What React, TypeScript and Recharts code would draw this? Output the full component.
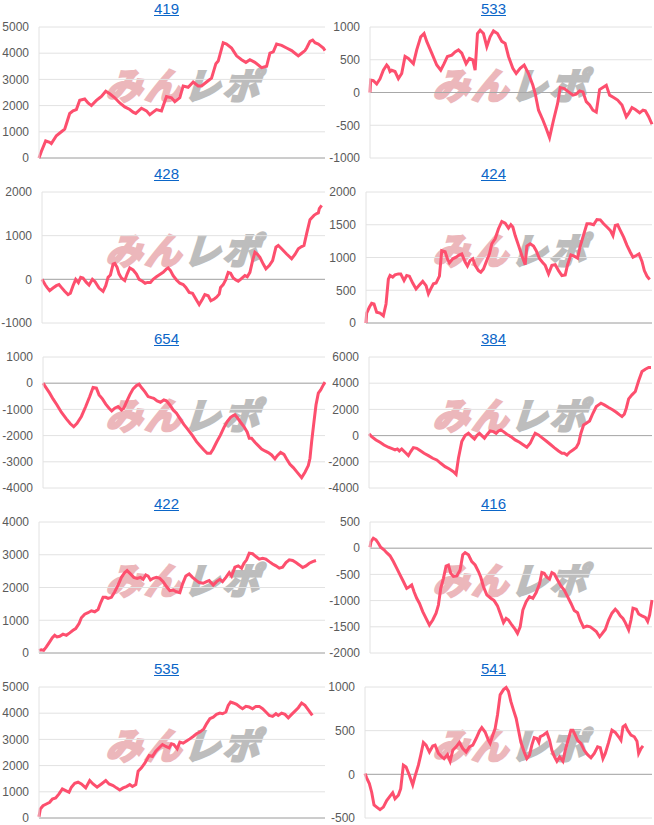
import React from 'react';
import { LineChart, Line, XAxis, YAxis, CartesianGrid, ReferenceLine } from 'recharts';

type Pt = [number, number];

const titles = ['419', '533', '428', '424', '654', '384', '422', '416', '535', '541'];

const s419: Pt[] = [[0,0],[7,250],[20,650],[32,600],[37,550],[52,850],[67,1000],[77,1100],[82,1300],[92,1700],[102,1800],[112,1850],[122,2200],[137,2250],[147,2100],[157,2000],[172,2200],[182,2300],[187,2350],[200,2550],[212,2450],[227,2300],[242,2100],[257,1950],[272,1850],[282,1750],[290,1700],[307,1900],[322,1800],[332,1650],[342,1750],[352,1850],[367,1800],[382,2350],[397,2300],[407,2150],[422,2300],[432,2750],[447,2700],[462,2900],[477,2750],[487,2750],[502,2900],[517,3050],[530,3600],[537,3700],[552,4400],[562,4350],[577,4200],[582,4100],[592,3900],[607,3750],[620,3650],[632,3750],[647,3650],[667,3450],[682,3500],[692,4000],[702,4050],[712,4350],[727,4300],[742,4200],[757,4100],[767,4000],[777,3900],[787,4000],[797,4100],[802,4200],[812,4450],[820,4500],[827,4400],[837,4350],[842,4300],[852,4200],[857,4100]];

const s533: Pt[] = [[0,0],[2,190],[10,180],[20,130],[30,210],[40,340],[50,420],[55,390],[60,320],[65,340],[75,320],[85,210],[95,290],[105,550],[115,520],[130,440],[140,650],[152,850],[162,900],[170,780],[185,600],[200,420],[212,340],[222,440],[232,550],[245,570],[255,620],[265,650],[275,600],[288,440],[298,520],[308,500],[315,340],[322,900],[330,950],[340,900],[350,700],[360,850],[370,940],[382,900],[395,780],[405,750],[415,550],[428,370],[438,290],[450,370],[462,420],[475,290],[488,110],[495,-15],[505,-270],[518,-420],[528,-550],[538,-690],[550,-420],[562,-170],[570,75],[582,60],[595,10],[608,-40],[618,-25],[628,25],[638,10],[648,-140],[658,-190],[668,-270],[678,-300],[688,45],[700,85],[708,110],[718,-40],[730,-75],[742,-115],[755,-190],[768,-370],[775,-320],[785,-230],[795,-260],[808,-310],[818,-270],[825,-280],[835,-370],[845,-485]];

const s428: Pt[] = [[0,0],[10,-130],[15,-185],[23,-260],[33,-200],[43,-145],[51,-120],[58,-185],[68,-275],[78,-350],[85,-320],[93,-145],[101,0],[109,-75],[116,45],[123,30],[133,-70],[141,-130],[151,0],[159,-55],[171,-200],[183,-275],[191,-145],[198,45],[205,100],[213,350],[218,365],[225,275],[231,120],[238,30],[248,-30],[255,120],[263,260],[273,215],[283,120],[291,0],[301,-45],[309,-90],[316,-70],[325,-70],[333,0],[343,60],[353,110],[363,160],[373,240],[378,260],[385,200],[393,85],[403,-15],[413,-90],[423,-120],[431,-185],[441,-300],[451,-320],[461,-450],[471,-580],[481,-450],[488,-350],[498,-375],[506,-490],[516,-450],[523,-410],[531,-340],[535,-185],[543,-120],[551,0],[558,160],[565,140],[573,30],[581,-15],[588,-45],[595,0],[608,85],[615,60],[623,160],[631,430],[638,620],[645,580],[653,505],[663,350],[671,240],[681,315],[691,430],[701,735],[708,775],[718,700],[733,580],[748,470],[758,570],[768,700],[778,750],[785,775],[793,1045],[803,1365],[815,1465],[823,1505],[828,1520],[831,1620],[838,1695]];

const s424: Pt[] = [[0,0],[2,150],[10,240],[17,300],[24,290],[32,165],[42,150],[52,110],[60,290],[67,670],[72,725],[80,700],[87,735],[97,750],[104,750],[114,650],[122,725],[130,715],[140,610],[150,520],[160,580],[170,635],[180,570],[187,445],[194,520],[202,600],[210,610],[220,715],[227,1105],[237,1090],[244,980],[250,920],[260,980],[270,1005],[280,1040],[287,1055],[297,930],[304,870],[312,955],[320,980],[327,880],[337,800],[344,775],[352,825],[360,930],[370,1055],[377,1210],[387,1285],[397,1440],[407,1550],[417,1525],[427,1450],[434,1500],[440,1465],[447,1335],[457,1185],[467,1030],[477,890],[482,1175],[492,1210],[502,1175],[510,1105],[520,980],[530,920],[537,880],[547,750],[557,880],[567,890],[577,800],[587,725],[597,735],[604,890],[614,1040],[624,1020],[634,990],[642,1175],[652,1345],[662,1515],[672,1515],[682,1500],[692,1580],[702,1575],[712,1515],[722,1465],[732,1415],[740,1335],[747,1490],[754,1500],[762,1415],[772,1310],[782,1185],[792,1080],[800,1005],[810,1030],[818,1055],[827,940],[834,800],[842,715],[850,665]];

const s654: Pt[] = [[0,0],[10,-190],[20,-380],[30,-600],[42,-830],[55,-1110],[70,-1360],[82,-1550],[92,-1660],[102,-1530],[115,-1270],[128,-890],[140,-510],[150,-165],[160,-190],[168,-445],[178,-600],[188,-800],[198,-955],[206,-1060],[215,-955],[225,-890],[235,-1020],[242,-955],[250,-725],[260,-445],[270,-215],[280,-90],[288,-40],[295,-165],[305,-320],[315,-510],[325,-550],[332,-575],[342,-675],[352,-725],[362,-640],[370,-675],[380,-830],[390,-1020],[400,-1145],[410,-1340],[422,-1570],[435,-1780],[448,-2000],[460,-2230],[470,-2380],[482,-2550],[492,-2675],[502,-2675],[510,-2510],[520,-2255],[532,-1975],[542,-1695],[552,-1465],[562,-1300],[570,-1235],[575,-1210],[582,-1310],[592,-1490],[602,-1655],[612,-1870],[618,-2100],[625,-2100],[635,-2255],[645,-2380],[655,-2510],[665,-2585],[675,-2650],[685,-2740],[695,-2890],[702,-2765],[712,-2640],[722,-2715],[730,-2890],[740,-3095],[750,-3220],[760,-3375],[768,-3500],[775,-3605],[785,-3400],[795,-3145],[800,-2865],[805,-2230],[812,-1465],[818,-830],[825,-380],[832,-255],[840,-65],[845,40]];

const s384: Pt[] = [[0,130],[8,-75],[21,-330],[33,-510],[45,-715],[58,-890],[71,-1020],[78,-1095],[85,-1020],[91,-1170],[98,-1020],[108,-1275],[118,-1530],[125,-1220],[133,-915],[143,-970],[153,-1145],[165,-1350],[178,-1530],[191,-1730],[203,-1860],[215,-2115],[228,-2370],[241,-2550],[253,-2750],[261,-2955],[268,-1730],[278,-460],[288,0],[298,180],[308,-75],[316,-255],[323,0],[331,180],[338,0],[346,-205],[353,50],[363,355],[373,305],[381,180],[388,355],[395,435],[403,305],[413,100],[425,-75],[438,-330],[451,-510],[463,-715],[473,-890],[483,-585],[491,-150],[498,180],[508,50],[518,-150],[531,-410],[543,-660],[555,-915],[568,-1170],[578,-1350],[585,-1350],[593,-1480],[601,-1275],[611,-1095],[621,-915],[628,-585],[635,180],[643,815],[651,940],[661,1120],[671,1705],[681,2215],[688,2345],[695,2470],[705,2345],[718,2140],[731,1960],[741,1785],[751,1580],[758,1450],[765,1630],[771,2090],[778,2800],[788,3110],[798,3365],[808,4180],[818,4890],[828,5070],[838,5200],[845,5200]];

const s422: Pt[] = [[0,80],[7,100],[14,80],[22,185],[32,340],[40,470],[47,540],[54,490],[62,510],[72,575],[82,540],[92,615],[102,695],[110,745],[120,900],[127,1075],[137,1185],[147,1230],[157,1290],[167,1260],[177,1330],[184,1515],[192,1700],[200,1700],[207,1665],[217,1700],[227,1870],[237,2075],[247,2310],[257,2455],[264,2515],[274,2415],[284,2310],[294,2280],[304,2310],[312,2250],[320,2385],[327,2350],[334,2230],[342,2280],[352,2310],[362,2280],[372,2180],[382,2030],[392,1905],[402,1925],[412,1870],[422,1840],[430,2105],[440,2350],[450,2415],[460,2310],[472,2210],[480,2150],[492,2130],[502,2180],[510,2210],[522,2075],[532,2180],[542,2250],[550,2180],[560,2310],[570,2455],[577,2350],[587,2620],[597,2660],[607,2590],[614,2740],[622,2845],[630,3050],[640,3030],[650,2945],[660,2865],[670,2895],[680,2865],[690,2790],[700,2720],[710,2660],[720,2590],[730,2620],[740,2760],[750,2845],[760,2825],[770,2760],[780,2690],[790,2610],[800,2660],[810,2740],[820,2790],[830,2825]];

const s416: Pt[] = [[0,20],[3,125],[10,190],[18,160],[25,95],[32,20],[42,-30],[50,-85],[60,-145],[70,-255],[80,-380],[90,-510],[100,-635],[110,-765],[118,-735],[125,-700],[132,-830],[140,-955],[148,-1050],[158,-1210],[168,-1340],[178,-1465],[188,-1370],[198,-1240],[205,-1085],[212,-765],[220,-575],[228,-340],[235,-320],[242,-480],[250,-540],[260,-530],[270,-415],[278,-125],[285,-85],[295,-125],[305,-255],[315,-320],[325,-445],[332,-555],[340,-735],[350,-890],[362,-955],[372,-1000],[382,-1100],[392,-1275],[400,-1420],[408,-1340],[415,-1370],[425,-1465],[435,-1550],[442,-1625],[450,-1500],[458,-1180],[468,-1020],[478,-925],[488,-955],[498,-845],[508,-680],[515,-465],[522,-480],[530,-555],[538,-590],[545,-465],[552,-490],[562,-605],[572,-720],[582,-800],[592,-925],[602,-1050],[612,-1190],[622,-1230],[630,-1380],[640,-1510],[650,-1485],[660,-1500],[670,-1550],[678,-1590],[688,-1690],[695,-1635],[705,-1550],[715,-1370],[725,-1240],[735,-1165],[742,-1210],[750,-1290],[758,-1340],[765,-1420],[775,-1560],[782,-1370],[788,-1145],[798,-1165],[805,-1255],[815,-1290],[825,-1320],[832,-1400],[838,-1275],[845,-990]];

const s535: Pt[] = [[0,50],[4,345],[12,470],[22,535],[32,600],[40,725],[50,765],[60,920],[70,1110],[80,1045],[90,980],[97,1175],[107,1325],[117,1365],[127,1300],[140,1150],[152,1430],[162,1300],[174,1175],[187,1300],[200,1430],[210,1300],[222,1240],[232,1150],[242,1070],[252,1150],[262,1200],[272,1275],[280,1200],[290,1275],[297,1785],[307,1915],[317,2090],[330,2385],[340,2350],[350,2550],[360,2680],[370,2805],[380,2730],[390,2680],[397,2830],[404,2805],[414,2640],[422,2895],[432,2855],[442,2935],[452,3020],[462,3110],[472,3215],[482,3280],[494,3405],[502,3595],[512,3790],[522,3850],[532,3955],[542,4005],[550,3980],[560,4045],[567,4300],[574,4425],[582,4390],[592,4335],[602,4235],[610,4170],[620,4260],[630,4235],[640,4170],[650,4260],[660,4260],[670,4170],[680,4045],[690,3915],[700,3880],[710,3980],[717,3915],[727,4005],[737,3955],[747,3825],[757,3955],[767,4080],[777,4210],[787,4390],[797,4300],[807,4130],[819,3915]];

const s541: Pt[] = [[0,10],[5,-40],[13,-105],[20,-205],[27,-350],[35,-375],[45,-405],[55,-375],[65,-300],[75,-250],[83,-210],[90,-280],[100,-240],[107,-165],[115,105],[123,85],[133,-10],[143,-120],[150,-20],[160,105],[167,220],[175,365],[183,335],[193,255],[203,325],[210,335],[220,240],[230,200],[237,180],[247,225],[255,150],[263,275],[273,315],[283,365],[293,295],[303,255],[313,315],[323,335],[333,410],[343,495],[350,535],[360,485],[370,390],[375,355],[383,450],[390,525],[397,680],[405,910],[415,970],[423,995],[430,950],[437,835],[445,735],[453,640],[460,505],[467,370],[477,255],[485,180],[493,220],[500,335],[507,420],[515,410],[521,365],[525,430],[535,450],[545,480],[553,390],[560,275],[568,200],[575,150],[583,200],[593,150],[600,275],[607,370],[617,505],[623,505],[630,450],[637,390],[647,355],[657,275],[667,225],[677,190],[687,240],[697,315],[705,305],[713,180],[720,240],[730,365],[740,505],[750,480],[760,430],[767,390],[773,545],[780,565],[787,505],[797,450],[807,430],[815,380],[820,240],[827,295],[833,325]];

const series: Pt[][] = [s419, s533, s428, s424, s654, s384, s422, s416, s535, s541];

const ticks419 = [0, 1000, 2000, 3000, 4000, 5000];
const ticks533 = [-1000, -500, 0, 500, 1000];
const ticks428 = [-1000, 0, 1000, 2000];
const ticks424 = [0, 500, 1000, 1500, 2000];
const ticks654 = [-4000, -3000, -2000, -1000, 0, 1000];
const ticks384 = [-4000, -2000, 0, 2000, 4000, 6000];
const ticks422 = [0, 1000, 2000, 3000, 4000];
const ticks416 = [-2000, -1500, -1000, -500, 0, 500];
const ticks535 = [0, 1000, 2000, 3000, 4000, 5000];
const ticks541 = [-500, 0, 500, 1000];
const tickSets = [ticks419, ticks533, ticks428, ticks424, ticks654, ticks384, ticks422, ticks416, ticks535, ticks541];

// horizontal span of each panel's x scale (progress units)
const spans = [857, 845, 848, 857, 845, 848, 857, 845, 857, 860];

// layout (not data)
const axisWidths = [39, 43, 42, 39, 43, 42, 39, 43, 39, 38];
const PANEL_W = 327;
const PANEL_H = 165;
const LINE_COLOR = '#fd4f6e';
const FONT = '"Liberation Sans", Arial, sans-serif';

function Panel({ idx }: { idx: number }) {
  const col = idx % 2;
  const row = Math.floor(idx / 2);
  const ticks = tickSets[idx];
  const data = series[idx].map(([t, v]) => ({ t, v }));
  const axisW = axisWidths[idx];
  return (
    <div style={{ position: 'absolute', left: col * PANEL_W, top: row * PANEL_H, width: PANEL_W, height: PANEL_H }}>
      <div style={{ position: 'absolute', left: 0, top: 0, width: 333, textAlign: 'center', fontFamily: FONT, fontSize: 15, lineHeight: '17px' }}>
        <a href="#" style={{ color: '#0b66c8', textDecoration: 'underline' }}>{titles[idx]}</a>
      </div>
      <div
        style={{
          position: 'absolute',
          left: 104,
          top: 63,
          fontFamily: '"Noto Sans CJK JP", sans-serif',
          fontWeight: 700,
          fontSize: 36,
          lineHeight: '40px',
          letterSpacing: 3,
          whiteSpace: 'nowrap',
          transform: 'skewX(-18deg)',
          transformOrigin: 'left bottom',
        }}
      >
        <span style={{ color: '#ecb7bb', WebkitTextStroke: '3px #ecb7bb' }}>みん</span>
        <span style={{ color: '#bdbdbd', WebkitTextStroke: '3px #bdbdbd' }}>レポ</span>
      </div>
      <div style={{ position: 'absolute', left: 0, top: 0 }}>
        <LineChart width={PANEL_W} height={PANEL_H} data={data} margin={{ top: 27, right: 2, bottom: 7, left: 0 }}>
          <CartesianGrid vertical={false} stroke="#e2e2e2" />
          <XAxis type="number" dataKey="t" domain={[0, spans[idx]]} hide />
          <YAxis
            type="number"
            domain={[ticks[0], ticks[ticks.length - 1]]}
            ticks={ticks}
            interval={0}
            width={axisW}
            tickLine={false}
            tickSize={0}
            tickMargin={10}
            axisLine={{ stroke: '#e2e2e2' }}
            tick={{ fill: '#5a5a5a', fontSize: 12, fontFamily: FONT }}
          />
          <ReferenceLine y={0} stroke="#a8a8a8" />
          <Line type="linear" dataKey="v" stroke={LINE_COLOR} strokeWidth={3} dot={false} isAnimationActive={false} />
        </LineChart>
      </div>
    </div>
  );
}

export default function App() {
  return (
    <div style={{ position: 'absolute', left: 0, top: 0, width: 654, height: 825, background: '#fff', overflow: 'hidden' }}>
      {titles.map((_, i) => (
        <Panel key={i} idx={i} />
      ))}
    </div>
  );
}
